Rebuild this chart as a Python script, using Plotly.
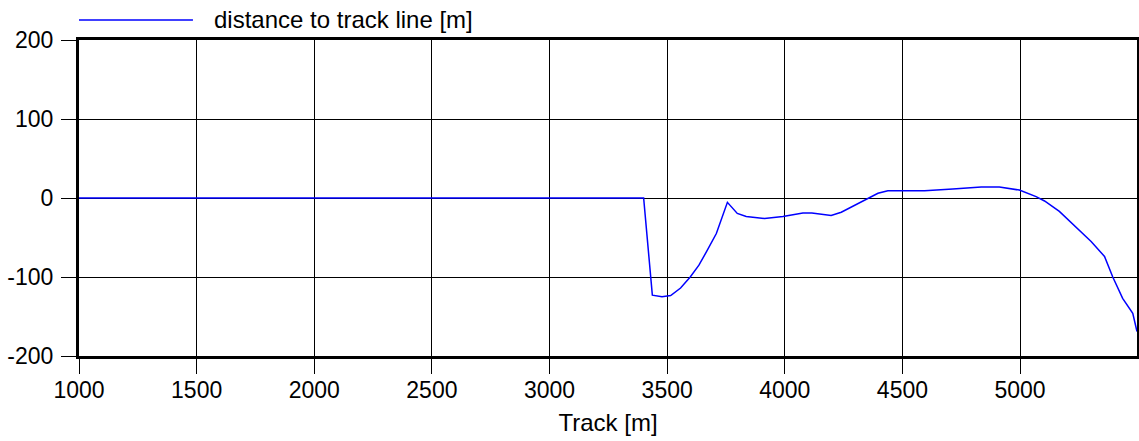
import plotly.graph_objects as go

# track position [m] and distance to track line [m]
track = [1000, 3400, 3437, 3478, 3515, 3557, 3598, 3635, 3669, 3709, 3756,
         3798, 3836, 3914, 3992, 4077, 4115, 4197, 4240, 4304, 4353, 4396,
         4438, 4594, 4714, 4835, 4912, 4997, 5068, 5104, 5167, 5252, 5302,
         5359, 5394, 5436, 5479, 5497]
distance = [0, 0, -123, -125, -123.5, -114, -100, -85, -67, -45, -5.5,
            -19.5, -23.5, -26, -23.5, -19, -19, -22, -18, -8, 0, 6,
            9.3, 9.3, 11.4, 14, 14, 10, 1.7, -3.8, -17, -40.5, -55,
            -74, -100, -127, -146, -169]

x_ticks = [1000, 1500, 2000, 2500, 3000, 3500, 4000, 4500, 5000]
y_ticks = [-200, -100, 0, 100, 200]
y_tick_text = ["-200", "-100", "0", "100", "200"]

FONT = "Liberation Sans, Arial, sans-serif"
TICK_FS = 23
TEXT_FS = 24

fig = go.Figure()
fig.add_trace(go.Scatter(
    x=track, y=distance, mode="lines",
    line=dict(color="#0000ff", width=1.5),
    name="distance to track line [m]",
    showlegend=False,
))

axis_common = dict(
    showgrid=True, gridcolor="#000000", gridwidth=1,
    showline=True, linecolor="#000000", linewidth=3, mirror=True,
    ticks="outside", ticklen=15, tickwidth=1, tickcolor="#000000",
    zeroline=False, automargin=False,
    tickfont=dict(family=FONT, size=TICK_FS, color="#000000"),
)

fig.update_xaxes(range=[1000, 5497], tickvals=x_ticks, ticklabelstandoff=-4,
                 title=dict(text="Track [m]", font=dict(family=FONT, size=TEXT_FS, color="#000000"),
                            standoff=13),
                 **axis_common)
fig.update_yaxes(range=[-200, 200], tickvals=y_ticks, ticktext=y_tick_text,
                 ticklabelstandoff=3, **axis_common)

# legend drawn by hand to get the long line sample
fig.add_shape(type="line", xref="paper", yref="paper",
              x0=0, x1=0.1077, y0=1.0633, y1=1.0633,
              line=dict(color="#0000ff", width=1.5))
fig.add_annotation(xref="paper", yref="paper", x=0.1257, y=1.0633,
                   xanchor="left", yanchor="middle", showarrow=False,
                   text="distance to track line [m]",
                   font=dict(family=FONT, size=TEXT_FS, color="#000000"))

fig.update_layout(
    width=1139, height=441,
    margin=dict(l=79, r=2, t=40, b=85),
    plot_bgcolor="white", paper_bgcolor="white",
    font=dict(family=FONT, size=TICK_FS, color="#000000"),
)

# drop the default 8px body margin so the figure fills the window exactly
fig.write_html("out.html", config={"displayModeBar": False},
               post_script="document.body.style.margin='0';document.body.style.overflow='hidden';")
